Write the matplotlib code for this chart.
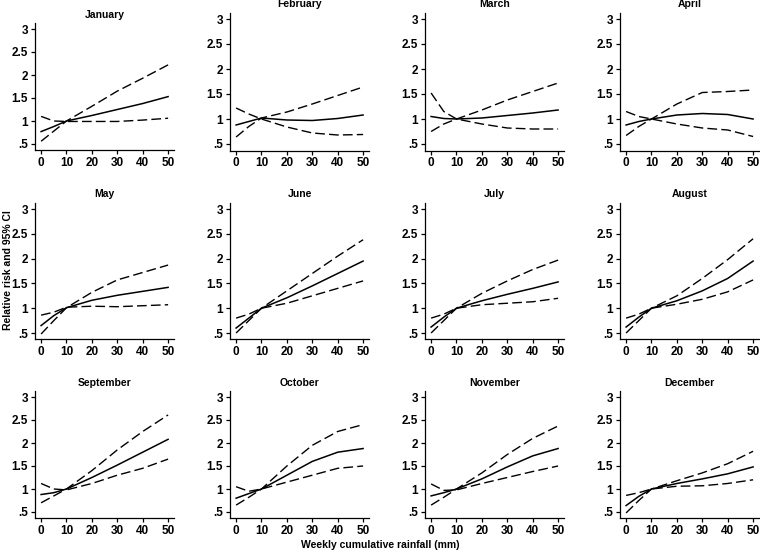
import matplotlib
matplotlib.use("Agg")
import matplotlib.pyplot as plt

plt.rcParams['font.family'] = ['Liberation Sans Narrow', 'Liberation Sans', 'DejaVu Sans']
plt.rcParams['font.weight'] = 'bold'
plt.rcParams['axes.titleweight'] = 'bold'

# --- Data: weekly cumulative rainfall grid and RR curves per month ---
rain = [0, 5, 10, 20, 30, 40, 50]

months = ["January", "February", "March", "April",
          "May", "June", "July", "August",
          "September", "October", "November", "December"]

rr = [
    [0.77, 0.88, 1.00, 1.12, 1.25, 1.38, 1.53],   # Jan
    [0.88, 0.95, 1.02, 0.98, 0.97, 1.01, 1.08],   # Feb
    [1.05, 1.01, 1.00, 1.02, 1.07, 1.12, 1.18],   # Mar
    [0.88, 0.95, 1.00, 1.08, 1.11, 1.09, 1.00],   # Apr
    [0.65, 0.85, 1.01, 1.16, 1.26, 1.34, 1.42],   # May
    [0.60, 0.80, 1.00, 1.21, 1.45, 1.70, 1.95],   # Jun
    [0.62, 0.82, 1.00, 1.15, 1.28, 1.40, 1.53],   # Jul
    [0.62, 0.82, 1.00, 1.15, 1.35, 1.60, 1.95],   # Aug
    [0.88, 0.92, 1.00, 1.25, 1.52, 1.80, 2.08],   # Sep
    [0.80, 0.90, 1.00, 1.30, 1.60, 1.80, 1.88],   # Oct
    [0.85, 0.92, 1.00, 1.22, 1.48, 1.72, 1.88],   # Nov
    [0.64, 0.84, 1.00, 1.12, 1.22, 1.33, 1.48],   # Dec
]

ci_a = [
    [0.56, 0.78, 1.00, 1.32, 1.65, 1.93, 2.22],
    [0.64, 0.85, 1.02, 1.14, 1.30, 1.47, 1.64],
    [0.75, 0.90, 1.00, 1.18, 1.38, 1.55, 1.72],
    [0.67, 0.85, 1.00, 1.30, 1.53, 1.55, 1.58],
    [0.48, 0.75, 1.01, 1.32, 1.57, 1.72, 1.87],
    [0.50, 0.75, 1.00, 1.35, 1.70, 2.05, 2.38],
    [0.50, 0.75, 1.00, 1.30, 1.55, 1.78, 1.97],
    [0.50, 0.75, 1.00, 1.25, 1.60, 1.98, 2.40],
    [0.70, 0.85, 1.00, 1.40, 1.85, 2.25, 2.61],
    [0.65, 0.82, 1.00, 1.50, 1.95, 2.25, 2.40],
    [0.65, 0.82, 1.00, 1.35, 1.75, 2.10, 2.37],
    [0.48, 0.75, 1.00, 1.18, 1.35, 1.55, 1.82],
]

ci_b = [
    [1.10, 1.00, 0.99, 0.99, 0.99, 1.02, 1.06],
    [1.22, 1.10, 1.00, 0.84, 0.72, 0.68, 0.69],
    [1.52, 1.15, 1.00, 0.90, 0.82, 0.80, 0.80],
    [1.15, 1.05, 1.00, 0.90, 0.82, 0.78, 0.65],
    [0.86, 0.92, 1.02, 1.04, 1.03, 1.05, 1.07],
    [0.80, 0.88, 1.00, 1.10, 1.25, 1.40, 1.55],
    [0.80, 0.88, 1.00, 1.07, 1.10, 1.13, 1.20],
    [0.80, 0.88, 1.00, 1.08, 1.18, 1.33, 1.57],
    [1.12, 1.00, 0.98, 1.12, 1.30, 1.45, 1.65],
    [1.05, 0.95, 1.00, 1.15, 1.30, 1.45, 1.50],
    [1.11, 0.97, 0.98, 1.12, 1.25, 1.38, 1.50],
    [0.86, 0.92, 1.00, 1.06, 1.07, 1.12, 1.20],
]

yticks = [0.5, 1, 1.5, 2, 2.5, 3]
ytick_labels = [".5", "1", "1.5", "2", "2.5", "3"]
xticks = [0, 10, 20, 30, 40, 50]

# --- Layout (pixel geometry of each panel) ---
W, H = 760, 554
col_left = [35, 230, 425, 620]
xlo, xhi = -2.4, 52.4
px_x = 2.54
ylo, yhi = 0.37, 3.12
# (pixel of y=0.5, pixels per unit) per panel
yscale = [(144, 46), (144, 50), (144, 50), (144, 50),
          (333, 49.6), (333, 49.6), (333, 49.6), (333, 49.6),
          (512, 46), (512, 46), (512, 46), (512, 46)]

fig = plt.figure(figsize=(7.6, 5.54), dpi=100)

for i, name in enumerate(months):
    half, ppu = yscale[i]
    left = col_left[i % 4]
    width = (xhi - xlo) * px_x
    bottom_px = half + (0.5 - ylo) * ppu
    top_px = half - (yhi - 0.5) * ppu
    ax = fig.add_axes([left / W, 1 - bottom_px / H, width / W, (bottom_px - top_px) / H])

    ax.plot(rain, rr[i], color='black', lw=1.1)
    ax.plot(rain, ci_a[i], color='black', lw=1.0, dashes=(7, 3))
    ax.plot(rain, ci_b[i], color='black', lw=1.0, dashes=(7, 3))

    ax.set_xlim(xlo, xhi)
    ax.set_ylim(ylo, yhi)
    ax.set_xticks(xticks)
    ax.set_yticks(yticks)
    ax.set_yticklabels(ytick_labels)
    ax.tick_params(labelsize=8.5, length=3, width=0.9, pad=2)
    ax.spines['top'].set_visible(False)
    ax.spines['right'].set_visible(False)
    ax.spines['left'].set_linewidth(0.9)
    ax.spines['bottom'].set_linewidth(0.9)
    ax.set_title(name, fontsize=7.5, pad=4)

fig.text(8 / W, 1 - 270 / H, "Relative risk and 95% CI", rotation=90,
         ha='center', va='center', fontsize=7.5)
fig.text(380 / W, 1 - 545 / H, "Weekly cumulative rainfall (mm)",
         ha='center', va='center', fontsize=7.5)

fig.savefig("out.png", dpi=100)
